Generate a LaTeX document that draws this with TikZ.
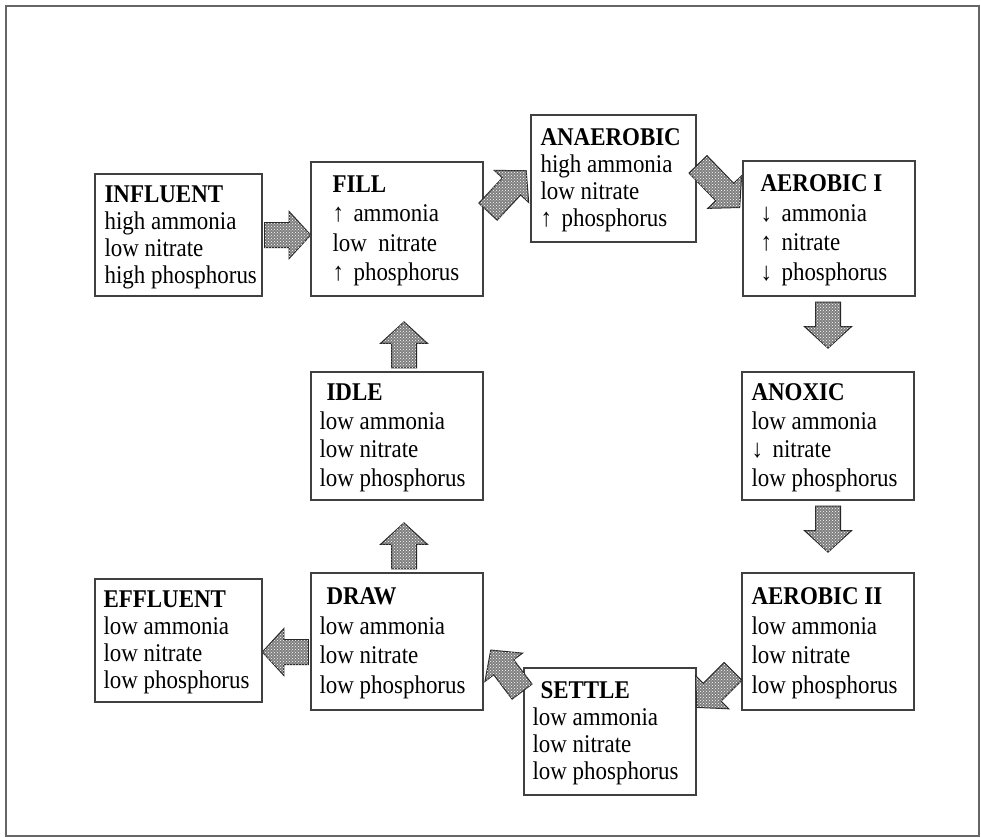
\documentclass[tikz,border=0pt]{standalone}
\usepackage{fontspec}
\setmainfont{Liberation Serif}[FakeStretch=0.9]
\usetikzlibrary{shapes.arrows,patterns,calc}
\newcommand{\uparr}{\makebox[21pt][l]{↑}}
\newcommand{\dnarr}{\makebox[21pt][l]{↓}}
\begin{document}
\begin{tikzpicture}[x=1pt,y=-1pt,
  stage/.style={draw=black!75, line width=1.3pt, inner sep=0pt},
  txt/.style={anchor=west, align=left, inner sep=0pt,
    font=\fontsize{25.5}{#1}\selectfont},
  txt/.default=29.5,
  flow/.style={single arrow, draw=black!85, line width=1pt,
    fill=black!50, postaction={pattern=crosshatch dots, pattern color=white},
    inner xsep=0pt, inner ysep=12pt, single arrow head extend=11pt,
    single arrow tip angle=95, minimum height=#1, anchor=tail},
  flow/.default=46pt]
\useasboundingbox (0,0) rectangle (981,837);
% outer frame
\draw[black!60, line width=2pt] (5.5,6.5) rectangle (979,836);

% stage boxes
\node[stage, minimum width=167, minimum height=122] (infl)   at (178.5,235) {};
\node[stage, minimum width=172, minimum height=134] (fill)   at (397,229) {};
\node[stage, minimum width=165, minimum height=127] (anaer)  at (613.5,178.5) {};
\node[stage, minimum width=172, minimum height=135] (aer1)   at (829,228.5) {};
\node[stage, minimum width=172, minimum height=128] (anox)   at (828,436) {};
\node[stage, minimum width=172, minimum height=137] (aer2)   at (828,641.5) {};
\node[stage, minimum width=172, minimum height=127] (settle) at (610,731.5) {};
\node[stage, minimum width=172, minimum height=137] (draw)   at (397,641.5) {};
\node[stage, minimum width=172, minimum height=128] (idle)   at (397,436) {};
\node[stage, minimum width=167, minimum height=123] (effl)   at (178.5,640.5) {};

% stage texts
\node[txt=27] (infl-t) at ($(infl.west)+(10,2)$)
  {\textbf{INFLUENT}\\high ammonia\\low nitrate\\high phosphorus};
\node[txt] (fill-t) at ($(fill.west)+(22,2)$)
  {\textbf{FILL}\\\uparr ammonia\\low\ \ nitrate\\\uparr phosphorus};
\node[txt=27] (anaer-t) at ($(anaer.west)+(10,2)$)
  {\textbf{ANAEROBIC}\\high ammonia\\low nitrate\\\uparr phosphorus};
\node[txt] (aer1-t) at ($(aer1.west)+(18,2)$)
  {\textbf{AEROBIC I}\\\dnarr ammonia\\\uparr nitrate\\\dnarr phosphorus};
\node[txt=28.5] (anox-t) at ($(anox.west)+(10,2)$)
  {\textbf{ANOXIC}\\low ammonia\\\dnarr nitrate\\low phosphorus};
\node[txt] (aer2-t) at ($(aer2.west)+(10,2)$)
  {\textbf{AEROBIC II}\\low ammonia\\low nitrate\\low phosphorus};
\node[txt=27] (settle-t) at ($(settle.west)+(9,2)$)
  {\hspace{8pt}\textbf{SETTLE}\\low ammonia\\low nitrate\\low phosphorus};
\node[txt] (draw-t) at ($(draw.west)+(9,2)$)
  {\hspace{7pt}\textbf{DRAW}\\low ammonia\\low nitrate\\low phosphorus};
\node[txt=28.5] (idle-t) at ($(idle.west)+(9,2)$)
  {\hspace{7pt}\textbf{IDLE}\\low ammonia\\low nitrate\\low phosphorus};
\node[txt=27] (effl-t) at ($(effl.west)+(9,2)$)
  {\textbf{EFFLUENT}\\low ammonia\\low nitrate\\low phosphorus};

% block arrows, each placed by its tail next to the stage it leaves
\node[flow, rotate=0]         (a-infl-fill)   at ($(infl.east)+(1.5,0)$) {};
\node[flow=56pt, rotate=47]   (a-fill-anaer)  at ($(fill.east)+(4,-17)$) {};
\node[flow=60pt, rotate=-46]  (a-anaer-aer1)  at ($(anaer.east)+(1,-14.5)$) {};
\node[flow, rotate=-90]       (a-aer1-anox)   at ($(aer1.south)+(-1,5)$) {};
\node[flow, rotate=-90]       (a-anox-aer2)   at ($(anox.south)+(0,5)$) {};
\node[flow=51pt, rotate=-135] (a-aer2-settle) at ($(aer2.west)+(-8,29.5)$) {};
\node[flow=52pt, rotate=127]  (a-settle-draw) at ($(settle.west)+(-1,-39.5)$) {};
\node[flow, rotate=90]        (a-draw-idle)   at ($(draw.north)+(7,-3)$) {};
\node[flow, rotate=90]        (a-idle-fill)   at ($(idle.north)+(7,-3)$) {};
\node[flow, rotate=180]       (a-draw-effl)   at ($(draw.west)+(-1.5,10.5)$) {};
\end{tikzpicture}
\end{document}
